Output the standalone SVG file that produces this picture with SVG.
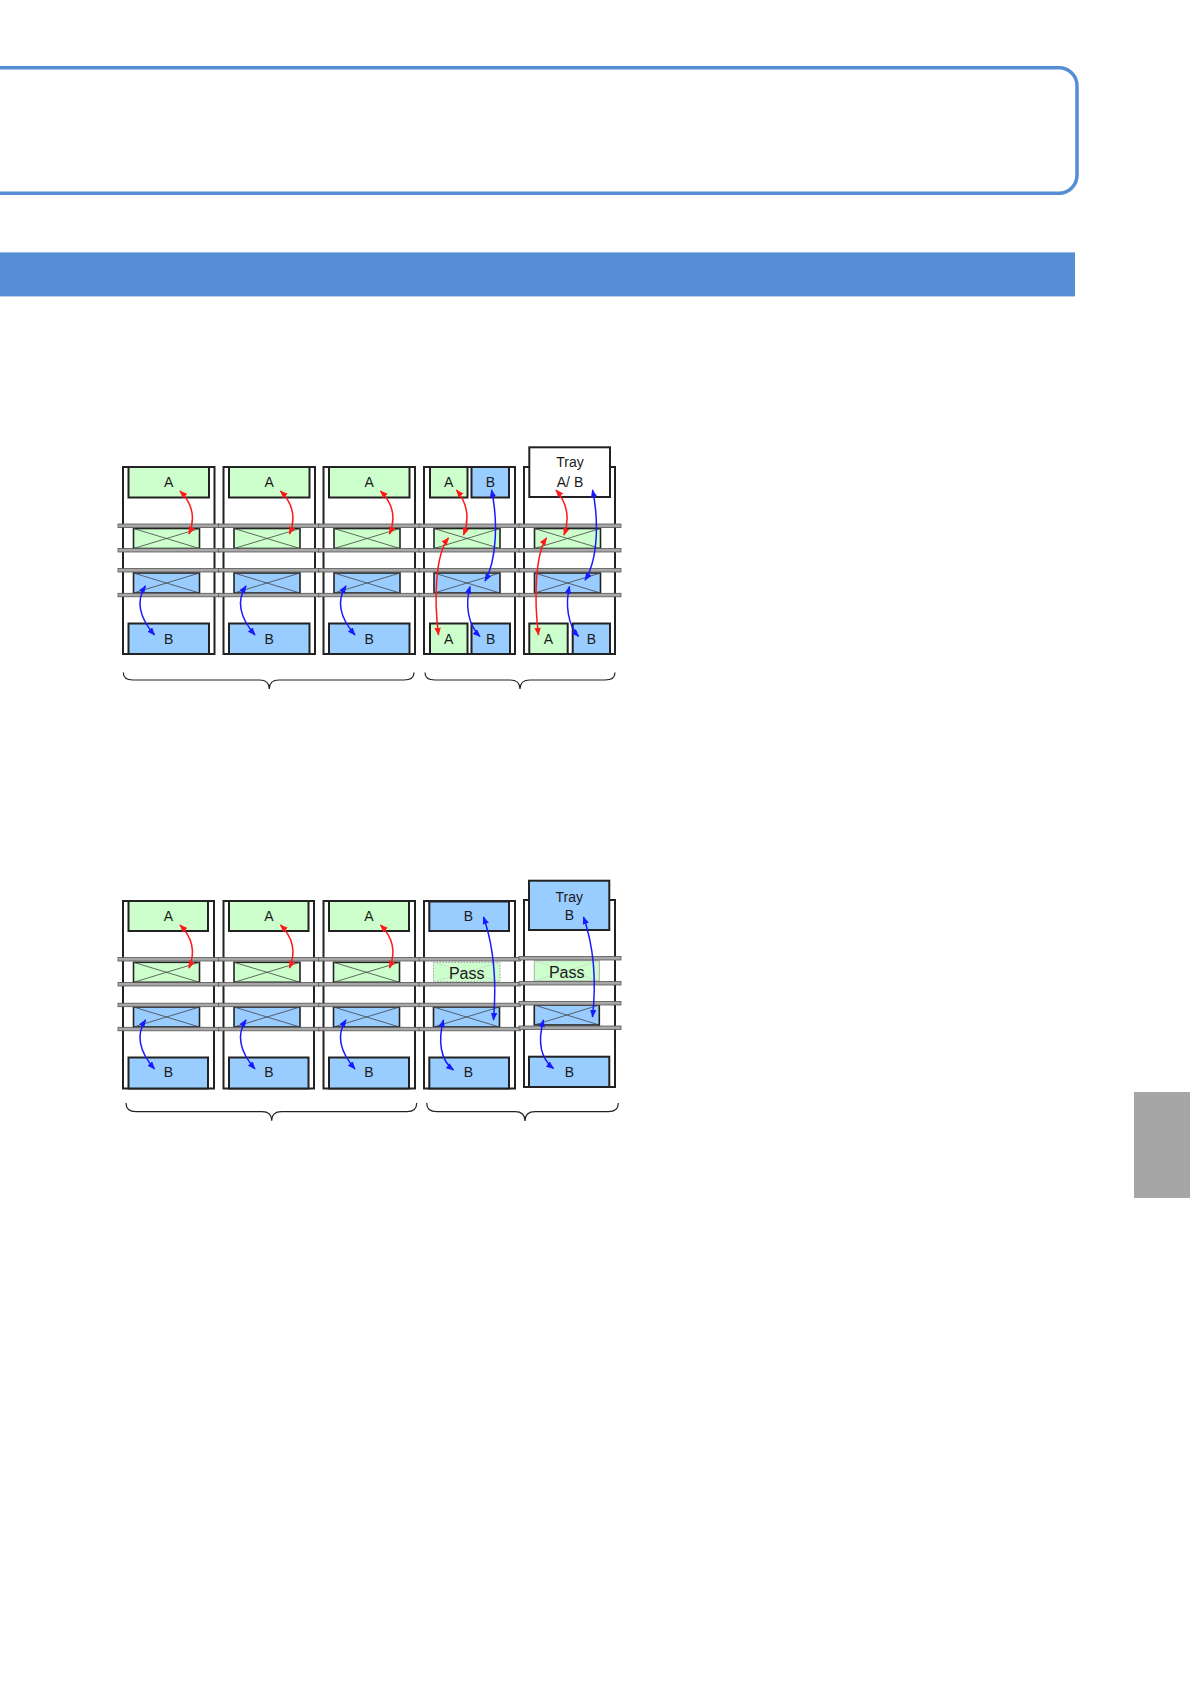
<svg xmlns="http://www.w3.org/2000/svg" width="1190" height="1684" viewBox="0 0 1190 1684">
<style>
.bg{fill:#ffffff}
.frame{fill:#ffffff;stroke:#222;stroke-width:2}
.ga{fill:#ccffcc;stroke:#222;stroke-width:2}
.bb{fill:#99ccff;stroke:#222;stroke-width:2}
.wt{fill:#ffffff;stroke:#222;stroke-width:2}
.tg{fill:#ccffcc;stroke:#222;stroke-width:1.6}
.tb{fill:#99ccff;stroke:#222;stroke-width:1.6}
.x{stroke:#444;stroke-width:0.8;fill:none}
.xf{stroke:#c8d8c8;stroke-width:0.8;fill:none}
.pass1{fill:#ccffcc;stroke:#999;stroke-width:1;stroke-dasharray:1.5 1.5}
.pass2{fill:#ccffcc;stroke:#aaa;stroke-width:1}
.rail{fill:#a8a8a8;stroke:#555;stroke-width:0.8}
.lbl{font-family:"Liberation Sans",Arial,sans-serif;font-size:14px;fill:#1a1a1a;text-anchor:middle}
.pass{font-family:"Liberation Sans",Arial,sans-serif;font-size:16px;fill:#1a1a1a;text-anchor:middle}
.red{stroke:#ff1a1a;stroke-width:1.5;fill:none;marker-start:url(#ar);marker-end:url(#ar)}
.blue{stroke:#1a1aff;stroke-width:1.5;fill:none;marker-start:url(#ab);marker-end:url(#ab)}
.brace{stroke:#222;stroke-width:1.2;fill:none}
</style>
<defs>
<marker id="ar" viewBox="0 0 10 8" refX="9" refY="4" markerWidth="8" markerHeight="6.4" markerUnits="userSpaceOnUse" orient="auto-start-reverse"><path d="M0,0 L10,4 L0,8 z" fill="#ff1a1a"/></marker>
<marker id="ab" viewBox="0 0 10 8" refX="9" refY="4" markerWidth="8" markerHeight="6.4" markerUnits="userSpaceOnUse" orient="auto-start-reverse"><path d="M0,0 L10,4 L0,8 z" fill="#1a1aff"/></marker>
<g id="trayG"><rect class="tg" x="0" y="0" width="66" height="20"/><path class="x" d="M0,0 L66,20 M0,20 L66,0"/></g>
<g id="trayB"><rect class="tb" x="0" y="0" width="66" height="20"/><path class="x" d="M0,0 L66,20 M0,20 L66,0"/></g>
</defs>
<rect class="bg" x="0" y="0" width="1190" height="1684"/>

<g id="header">
<rect x="-40" y="67.7" width="1117" height="125.6" rx="18" ry="18" fill="none" stroke="#558ed5" stroke-width="3.5"/>
<rect x="0" y="252.4" width="1075" height="44" fill="#558ed5"/>
<rect x="1134" y="1092" width="56" height="106" fill="#a6a6a6"/>
</g>

<!-- ============ DIAGRAM 1 ============ -->
<g id="d1-col1">
<rect class="frame" x="123" y="467" width="91.5" height="187"/>
<rect class="ga" x="128.5" y="467" width="80.5" height="30.5"/>
<text class="lbl" x="168.7" y="486.7">A</text>
<use href="#trayG" x="133.5" y="528.5"/>
<use href="#trayB" x="133.5" y="573"/>
<rect class="bb" x="128.5" y="623.5" width="80.5" height="30.5"/>
<text class="lbl" x="168.7" y="643.5">B</text>
</g>
<g id="d1-col2">
<rect class="frame" x="223.5" y="467" width="91.5" height="187"/>
<rect class="ga" x="229" y="467" width="80.5" height="30.5"/>
<text class="lbl" x="269.2" y="486.7">A</text>
<use href="#trayG" x="234" y="528.5"/>
<use href="#trayB" x="234" y="573"/>
<rect class="bb" x="229" y="623.5" width="80.5" height="30.5"/>
<text class="lbl" x="269.2" y="643.5">B</text>
</g>
<g id="d1-col3">
<rect class="frame" x="323.5" y="467" width="91.5" height="187"/>
<rect class="ga" x="329" y="467" width="80.5" height="30.5"/>
<text class="lbl" x="369.2" y="486.7">A</text>
<use href="#trayG" x="334" y="528.5"/>
<use href="#trayB" x="334" y="573"/>
<rect class="bb" x="329" y="623.5" width="80.5" height="30.5"/>
<text class="lbl" x="369.2" y="643.5">B</text>
</g>
<g id="d1-col4">
<rect class="frame" x="424" y="467" width="91" height="187"/>
<rect class="ga" x="430" y="467" width="37.5" height="30.5"/>
<text class="lbl" x="448.7" y="486.7">A</text>
<rect class="bb" x="471.5" y="467" width="37.5" height="30.5"/>
<text class="lbl" x="490.3" y="486.7">B</text>
<use href="#trayG" x="434" y="528.5"/>
<use href="#trayB" x="434" y="573"/>
<rect class="ga" x="430" y="623.5" width="37.5" height="30.5"/>
<text class="lbl" x="448.7" y="643.5">A</text>
<rect class="bb" x="471.5" y="623.5" width="38.5" height="30.5"/>
<text class="lbl" x="490.7" y="643.5">B</text>
</g>
<g id="d1-col5">
<rect class="frame" x="524" y="467" width="91" height="187"/>
<rect class="wt" x="529.3" y="447.3" width="80.7" height="49.7"/>
<text class="lbl" x="570" y="467.3">Tray</text>
<text class="lbl" x="570" y="486.7">A/ B</text>
<use href="#trayG" x="534.5" y="528.5"/>
<use href="#trayB" x="534.5" y="573"/>
<rect class="ga" x="529.3" y="623.5" width="38.4" height="30.5"/>
<text class="lbl" x="548.5" y="643.5">A</text>
<rect class="bb" x="572.7" y="623.5" width="37.3" height="30.5"/>
<text class="lbl" x="591.3" y="643.5">B</text>
</g>
<g id="d1-rails">
<rect class="rail" x="118" y="524" width="101.5" height="3.5"/>
<rect class="rail" x="218.5" y="524" width="101.5" height="3.5"/>
<rect class="rail" x="318.5" y="524" width="101.5" height="3.5"/>
<rect class="rail" x="419" y="524" width="101.5" height="3.5"/>
<rect class="rail" x="519" y="524" width="102" height="3.5"/>
<rect class="rail" x="118" y="548.5" width="101.5" height="3.5"/>
<rect class="rail" x="218.5" y="548.5" width="101.5" height="3.5"/>
<rect class="rail" x="318.5" y="548.5" width="101.5" height="3.5"/>
<rect class="rail" x="419" y="548.5" width="101.5" height="3.5"/>
<rect class="rail" x="519" y="548.5" width="102" height="3.5"/>
<rect class="rail" x="118" y="568.5" width="101.5" height="3.5"/>
<rect class="rail" x="218.5" y="568.5" width="101.5" height="3.5"/>
<rect class="rail" x="318.5" y="568.5" width="101.5" height="3.5"/>
<rect class="rail" x="419" y="568.5" width="101.5" height="3.5"/>
<rect class="rail" x="519" y="568.5" width="102" height="3.5"/>
<rect class="rail" x="118" y="593.3" width="101.5" height="3.5"/>
<rect class="rail" x="218.5" y="593.3" width="101.5" height="3.5"/>
<rect class="rail" x="318.5" y="593.3" width="101.5" height="3.5"/>
<rect class="rail" x="419" y="593.3" width="101.5" height="3.5"/>
<rect class="rail" x="519" y="593.3" width="102" height="3.5"/>
</g>
<g id="d1-braces">
<path class="brace" d="M123.3,672.5 Q123.3,680 133,680 L259.5,680 Q269.3,680 269.3,689 Q269.3,680 279,680 L404,680 Q414,680 414,672.5"/>
<path class="brace" d="M425,672.5 Q425,680 435,680 L510,680 Q520,680 520,689 Q520,680 530,680 L605,680 Q615,680 615,672.5"/>
</g>

<!-- ============ DIAGRAM 2 ============ -->
<g id="d2-col1">
<rect class="frame" x="123" y="901" width="91" height="187.5"/>
<rect class="ga" x="128.5" y="901" width="79.5" height="30"/>
<text class="lbl" x="168.3" y="921">A</text>
<use href="#trayG" x="133.5" y="962.3"/>
<use href="#trayB" x="133.5" y="1007"/>
<rect class="bb" x="128.5" y="1057.5" width="79.5" height="31"/>
<text class="lbl" x="168.3" y="1077">B</text>
</g>
<g id="d2-col2">
<rect class="frame" x="223.5" y="901" width="90.5" height="187.5"/>
<rect class="ga" x="229" y="901" width="79.5" height="30"/>
<text class="lbl" x="268.8" y="921">A</text>
<use href="#trayG" x="234" y="962.3"/>
<use href="#trayB" x="234" y="1007"/>
<rect class="bb" x="229" y="1057.5" width="79.5" height="31"/>
<text class="lbl" x="268.8" y="1077">B</text>
</g>
<g id="d2-col3">
<rect class="frame" x="323.5" y="901" width="91.5" height="187.5"/>
<rect class="ga" x="329" y="901" width="80" height="30"/>
<text class="lbl" x="369" y="921">A</text>
<use href="#trayG" x="333.5" y="962.3"/>
<use href="#trayB" x="333.5" y="1007"/>
<rect class="bb" x="329" y="1057.5" width="80" height="31"/>
<text class="lbl" x="369" y="1077">B</text>
</g>
<g id="d2-col4">
<rect class="frame" x="424" y="901" width="91" height="187.5"/>
<rect class="bb" x="429.3" y="901.5" width="79.7" height="29.5"/>
<text class="lbl" x="468.5" y="921">B</text>
<rect class="pass1" x="433.5" y="962.3" width="66.5" height="19.5"/>
<path class="xf" d="M433.5,962.3 L500,981.8 M433.5,981.8 L500,962.3"/>
<text class="pass" x="466.7" y="979">Pass</text>
<use href="#trayB" x="433.5" y="1007"/>
<rect class="bb" x="429.3" y="1057.5" width="79.7" height="31"/>
<text class="lbl" x="468.5" y="1077">B</text>
</g>
<g id="d2-col5">
<rect class="frame" x="524" y="900" width="91" height="187"/>
<rect class="bb" x="529" y="880.7" width="80.3" height="49.3"/>
<text class="lbl" x="569.3" y="901.7">Tray</text>
<text class="lbl" x="569.3" y="919.5">B</text>
<rect class="pass2" x="534.3" y="960.7" width="65" height="20.3"/>
<path class="xf" d="M534.3,960.7 L599.3,981 M534.3,981 L599.3,960.7"/>
<text class="pass" x="566.7" y="978">Pass</text>
<g transform="translate(534.3,1005)"><rect class="tb" x="0" y="0" width="65" height="20"/><path class="x" d="M0,0 L65,20 M0,20 L65,0"/></g>
<rect class="bb" x="529" y="1056.7" width="80.3" height="30.3"/>
<text class="lbl" x="569.3" y="1076.5">B</text>
</g>
<g id="d2-rails">
<rect class="rail" x="118" y="957.5" width="101.5" height="3.5"/>
<rect class="rail" x="218.5" y="957.5" width="101.5" height="3.5"/>
<rect class="rail" x="318.5" y="957.5" width="101.5" height="3.5"/>
<rect class="rail" x="419" y="957.5" width="101.5" height="3.5"/>
<rect class="rail" x="519" y="956.5" width="102" height="3.5"/>
<rect class="rail" x="118" y="982.5" width="101.5" height="3.5"/>
<rect class="rail" x="218.5" y="982.5" width="101.5" height="3.5"/>
<rect class="rail" x="318.5" y="982.5" width="101.5" height="3.5"/>
<rect class="rail" x="419" y="982.5" width="101.5" height="3.5"/>
<rect class="rail" x="519" y="981.5" width="102" height="3.5"/>
<rect class="rail" x="118" y="1003.2" width="101.5" height="3.5"/>
<rect class="rail" x="218.5" y="1003.2" width="101.5" height="3.5"/>
<rect class="rail" x="318.5" y="1003.2" width="101.5" height="3.5"/>
<rect class="rail" x="419" y="1003.2" width="101.5" height="3.5"/>
<rect class="rail" x="519" y="1001.5" width="102" height="3.5"/>
<rect class="rail" x="118" y="1027.3" width="101.5" height="3.5"/>
<rect class="rail" x="218.5" y="1027.3" width="101.5" height="3.5"/>
<rect class="rail" x="318.5" y="1027.3" width="101.5" height="3.5"/>
<rect class="rail" x="419" y="1027.3" width="101.5" height="3.5"/>
<rect class="rail" x="519" y="1026" width="102" height="3.5"/>
</g>
<g id="d2-braces">
<path class="brace" d="M126,1103 Q126,1111.7 136,1111.7 L262,1111.7 Q271.7,1111.7 271.7,1120.7 Q271.7,1111.7 281.5,1111.7 L407,1111.7 Q416.7,1111.7 416.7,1103"/>
<path class="brace" d="M426.7,1103 Q426.7,1111.7 436.7,1111.7 L515,1111.7 Q525,1111.7 525,1121 Q525,1111.7 535,1111.7 L608.3,1111.7 Q618.3,1111.7 618.3,1103"/>
</g>

<g id="connectors">
<!-- diagram 1 -->
<path class="red" d="M180,491 Q199,510 189,534"/>
<path class="red" d="M280.5,491 Q299.5,510 289.5,534"/>
<path class="red" d="M380.5,491 Q399.5,510 389.5,534"/>
<path class="blue" d="M145.5,586 Q131,608 154.5,635"/>
<path class="blue" d="M246,586 Q231.5,608 255,635"/>
<path class="blue" d="M346,586 Q331.5,608 355,635"/>
<path class="red" d="M456.5,490 Q473,510 463.5,535"/>
<path class="red" d="M448.5,538 C435,555 434,600 438.5,635"/>
<path class="blue" d="M491.5,490 C498,520 497,560 485,581"/>
<path class="blue" d="M470,586.5 C465,605 468,625 480,636.5"/>
<path class="red" d="M556,490 Q573,510 564,535"/>
<path class="red" d="M546.5,538 C535,555 534,600 538.5,635"/>
<path class="blue" d="M592.5,490 C599,520 598,560 585,580"/>
<path class="blue" d="M569.5,586.5 C565,605 568,625 578.5,636.5"/>
<!-- diagram 2 -->
<path class="red" d="M180,925 Q199,944 189,968"/>
<path class="red" d="M280.5,925 Q299.5,944 289.5,968"/>
<path class="red" d="M380.5,925 Q399.5,944 389.5,968"/>
<path class="blue" d="M145.5,1020 Q131,1042 154.5,1069"/>
<path class="blue" d="M246,1020 Q231.5,1042 255,1069"/>
<path class="blue" d="M346,1020 Q331.5,1042 355,1069"/>
<path class="blue" d="M483.5,917 C495,950 496,990 493.5,1020"/>
<path class="blue" d="M443.5,1020 C438,1040 440,1060 453.5,1070"/>
<path class="blue" d="M583.5,917 C595,950 596,985 592.5,1017"/>
<path class="blue" d="M543.5,1020 C538,1040 540,1058 553.5,1068.5"/>
</g>
</svg>
